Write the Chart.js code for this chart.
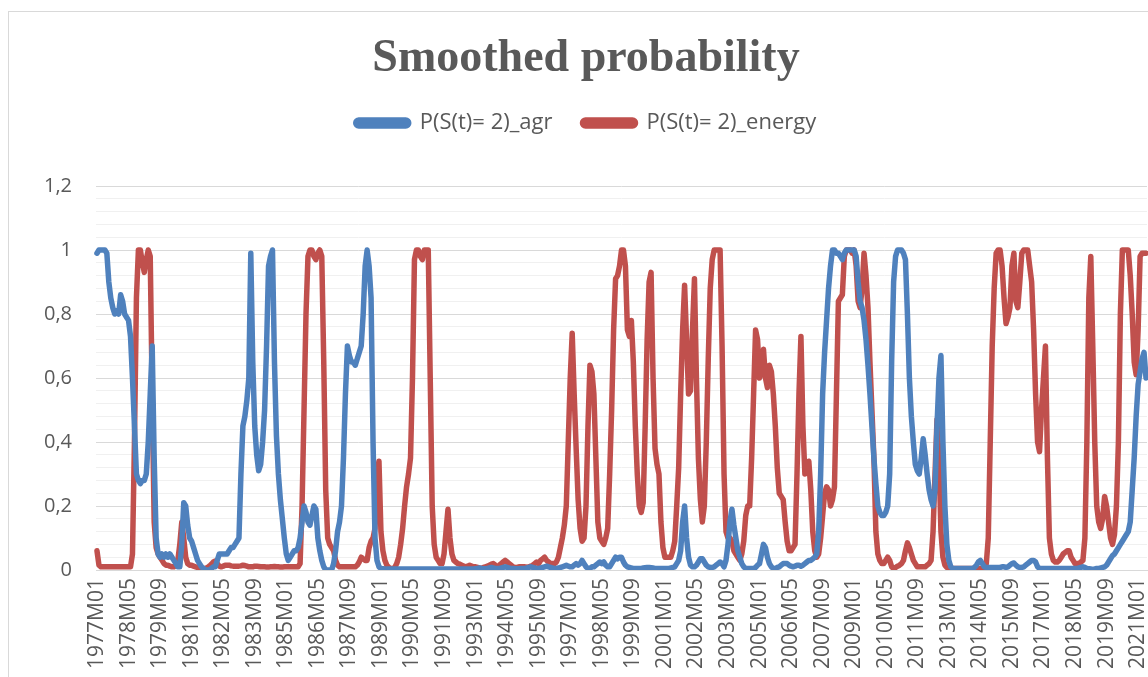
<!DOCTYPE html>
<html>
<head>
<meta charset="utf-8">
<script src="https://cdn.jsdelivr.net/npm/chart.js@4"></script>
<style>
  html, body { margin: 0; padding: 0; background: #fff; overflow: hidden; }
  #frame { position: absolute; left: 8px; top: 11px; width: 1154px; height: 690px; border: 1px solid #d9d9d9; }
</style>
</head>
<body>
<div id="frame"><canvas id="chart"></canvas></div>
<script>
// Monthly smoothed probabilities, 1977M01 .. 2021M05 (one row per year)
const agr = [
  0.99, 1.0, 1.0, 1.0, 1.0, 0.99, 0.9, 0.85, 0.82, 0.8, 0.81, 0.8,
  0.86, 0.84, 0.8, 0.79, 0.78, 0.73, 0.6, 0.45, 0.3, 0.28, 0.27, 0.28,
  0.28, 0.3, 0.4, 0.55, 0.7, 0.35, 0.1, 0.05, 0.04, 0.05, 0.04, 0.05,
  0.04, 0.05, 0.04, 0.03, 0.02, 0.01, 0.01, 0.08, 0.21, 0.2, 0.14, 0.1,
  0.09, 0.07, 0.05, 0.03, 0.02, 0.01, 0.005, 0.0, 0.0, 0.0, 0.005, 0.01,
  0.01, 0.03, 0.05, 0.05, 0.05, 0.05, 0.05, 0.06, 0.07, 0.07, 0.08, 0.09,
  0.1, 0.3, 0.45, 0.48, 0.53, 0.6, 0.99, 0.65, 0.45, 0.36, 0.31, 0.33,
  0.4, 0.5, 0.7, 0.95, 0.98, 1.0, 0.65, 0.42, 0.3, 0.22, 0.16, 0.1,
  0.05, 0.03, 0.04, 0.05, 0.06, 0.06, 0.07, 0.1, 0.15, 0.2, 0.18, 0.15,
  0.14, 0.17, 0.2, 0.19, 0.1, 0.06, 0.03, 0.01, 0.0, 0.0, 0.0, 0.0,
  0.02, 0.06, 0.12, 0.15, 0.2, 0.35, 0.55, 0.7, 0.67, 0.65, 0.65, 0.64,
  0.66, 0.68, 0.7, 0.8, 0.95, 1.0, 0.95, 0.85, 0.4, 0.1, 0.03, 0.01,
  0.005, 0.004, 0.003, 0.003, 0.003, 0.003, 0.003, 0.003, 0.003, 0.003, 0.003, 0.003,
  0.003, 0.003, 0.003, 0.003, 0.003, 0.003, 0.003, 0.003, 0.003, 0.003, 0.003, 0.003,
  0.003, 0.003, 0.003, 0.003, 0.003, 0.003, 0.003, 0.003, 0.003, 0.003, 0.003, 0.003,
  0.003, 0.003, 0.003, 0.003, 0.003, 0.003, 0.003, 0.003, 0.003, 0.003, 0.003, 0.003,
  0.004, 0.005, 0.006, 0.005, 0.004, 0.004, 0.005, 0.006, 0.008, 0.006, 0.005, 0.005,
  0.005, 0.006, 0.008, 0.01, 0.008, 0.006, 0.005, 0.005, 0.004, 0.004, 0.004, 0.005,
  0.005, 0.005, 0.006, 0.008, 0.01, 0.008, 0.006, 0.005, 0.005, 0.006, 0.008, 0.01,
  0.012, 0.01, 0.008, 0.006, 0.005, 0.005, 0.006, 0.008, 0.01, 0.012, 0.015, 0.012,
  0.01, 0.01, 0.015, 0.02, 0.015, 0.02, 0.03, 0.02, 0.01, 0.005, 0.005, 0.01,
  0.01, 0.015, 0.02, 0.025, 0.02, 0.025, 0.015, 0.01, 0.01, 0.02, 0.03, 0.04,
  0.035, 0.04, 0.04, 0.025, 0.015, 0.01, 0.008, 0.006, 0.005, 0.005, 0.005, 0.005,
  0.005, 0.006, 0.007, 0.008, 0.008, 0.007, 0.006, 0.005, 0.005, 0.005, 0.005, 0.005,
  0.005, 0.005, 0.005, 0.006, 0.008, 0.01, 0.02, 0.03, 0.06, 0.15, 0.2, 0.1,
  0.04, 0.015, 0.01, 0.01, 0.015, 0.025, 0.035, 0.035, 0.025, 0.015, 0.01, 0.008,
  0.008, 0.01, 0.015, 0.02, 0.025, 0.02, 0.01, 0.03, 0.08, 0.15, 0.19, 0.14,
  0.1, 0.06, 0.04, 0.02, 0.01, 0.005, 0.005, 0.005, 0.005, 0.005, 0.008, 0.015,
  0.02, 0.05, 0.08, 0.07, 0.04, 0.02, 0.01, 0.005, 0.005, 0.008, 0.01, 0.015,
  0.02, 0.02, 0.02, 0.015, 0.012, 0.01, 0.012, 0.015, 0.015, 0.012, 0.015, 0.02,
  0.025, 0.03, 0.03, 0.035, 0.04, 0.05, 0.12, 0.3, 0.55, 0.68, 0.78, 0.88,
  0.95, 1.0, 1.0, 0.99, 0.99, 0.98, 0.97, 0.99, 1.0, 1.0, 1.0, 1.0,
  1.0, 0.98, 0.9, 0.84, 0.82, 0.78, 0.72, 0.64, 0.55, 0.45, 0.35, 0.27,
  0.2, 0.18, 0.17, 0.17, 0.18, 0.2, 0.3, 0.65, 0.9, 0.98, 1.0, 1.0,
  1.0, 0.99, 0.97, 0.8, 0.6, 0.48, 0.4, 0.33, 0.31, 0.3, 0.35, 0.41,
  0.36, 0.3, 0.25, 0.22, 0.2, 0.25, 0.45, 0.6, 0.67, 0.4, 0.2, 0.08,
  0.03, 0.01, 0.005, 0.005, 0.005, 0.005, 0.005, 0.005, 0.005, 0.005, 0.005, 0.005,
  0.005, 0.008, 0.015, 0.025, 0.03, 0.02, 0.01, 0.008, 0.008, 0.008, 0.008, 0.008,
  0.008, 0.008, 0.008, 0.01, 0.01, 0.008, 0.01, 0.015, 0.02, 0.022, 0.015, 0.01,
  0.008, 0.008, 0.01, 0.015, 0.02, 0.025, 0.03, 0.03, 0.025, 0.01, 0.005, 0.005,
  0.005, 0.005, 0.005, 0.005, 0.005, 0.005, 0.005, 0.005, 0.005, 0.005, 0.005, 0.005,
  0.005, 0.005, 0.005, 0.005, 0.005, 0.005, 0.006, 0.008, 0.01, 0.008, 0.005, 0.004,
  0.003, 0.002, 0.003, 0.005, 0.005, 0.006, 0.008, 0.01, 0.015, 0.025, 0.035, 0.045,
  0.05, 0.06, 0.07, 0.08, 0.09, 0.1, 0.11, 0.12, 0.15, 0.25, 0.35, 0.48,
  0.58, 0.62, 0.66, 0.68, 0.6
];

const energy = [
  0.06, 0.015, 0.01, 0.01, 0.01, 0.01, 0.01, 0.01, 0.01, 0.01, 0.01, 0.01,
  0.01, 0.01, 0.01, 0.01, 0.01, 0.01, 0.05, 0.4, 0.85, 1.0, 1.0, 0.96,
  0.93, 0.97, 1.0, 0.98, 0.55, 0.15, 0.07, 0.05, 0.04, 0.03, 0.02, 0.015,
  0.015, 0.012, 0.01, 0.01, 0.015, 0.03, 0.08, 0.15, 0.1, 0.04, 0.02, 0.015,
  0.015, 0.012, 0.01, 0.008, 0.006, 0.005, 0.005, 0.005, 0.008, 0.012, 0.018, 0.025,
  0.028, 0.02, 0.012, 0.01, 0.012, 0.015, 0.015, 0.015, 0.013, 0.012, 0.012, 0.012,
  0.012, 0.013, 0.015, 0.014, 0.012, 0.01, 0.01, 0.01, 0.012, 0.012, 0.011, 0.01,
  0.01, 0.01, 0.009, 0.009, 0.01, 0.01, 0.011, 0.01, 0.01, 0.009, 0.009, 0.01,
  0.01, 0.01, 0.01, 0.01, 0.01, 0.01, 0.01, 0.02, 0.2, 0.5, 0.8, 0.98,
  1.0, 1.0, 0.98, 0.97, 0.99, 1.0, 0.98, 0.65, 0.25, 0.1, 0.08, 0.07,
  0.06, 0.03, 0.015, 0.01, 0.01, 0.01, 0.01, 0.01, 0.01, 0.01, 0.01, 0.01,
  0.015, 0.025, 0.04, 0.035, 0.03, 0.03, 0.07, 0.09, 0.1, 0.13, 0.3, 0.34,
  0.12, 0.06, 0.03, 0.015, 0.008, 0.005, 0.005, 0.008, 0.02, 0.04, 0.08, 0.13,
  0.2, 0.26, 0.3, 0.35, 0.6, 0.97, 1.0, 1.0, 0.98, 0.97, 1.0, 1.0,
  1.0, 0.6, 0.2, 0.08, 0.04, 0.03, 0.02, 0.02, 0.05, 0.12, 0.19, 0.1,
  0.05, 0.03, 0.025, 0.02, 0.018, 0.015, 0.012, 0.01, 0.012, 0.015, 0.012, 0.01,
  0.01, 0.008, 0.006, 0.005, 0.008, 0.01, 0.012, 0.015, 0.018, 0.02, 0.015, 0.012,
  0.015, 0.02, 0.025, 0.03, 0.025, 0.02, 0.015, 0.01, 0.008, 0.008, 0.01, 0.01,
  0.01, 0.01, 0.008, 0.01, 0.012, 0.015, 0.02, 0.025, 0.02, 0.03, 0.035, 0.04,
  0.03, 0.025, 0.02, 0.02, 0.02, 0.025, 0.04, 0.07, 0.1, 0.14, 0.2, 0.4,
  0.6, 0.74, 0.55, 0.38, 0.22, 0.13, 0.09, 0.1, 0.2, 0.45, 0.64, 0.62,
  0.55, 0.35, 0.15, 0.1, 0.09, 0.08, 0.1, 0.13, 0.3, 0.5, 0.75, 0.91,
  0.92, 0.95, 1.0, 1.0, 0.95, 0.75, 0.73, 0.78, 0.65, 0.45, 0.3, 0.2,
  0.18, 0.21, 0.45, 0.72, 0.9, 0.93, 0.6, 0.38, 0.33, 0.3, 0.15, 0.07,
  0.04, 0.04, 0.04, 0.04, 0.06, 0.09, 0.2, 0.32, 0.55, 0.75, 0.89, 0.72,
  0.55, 0.56, 0.75, 0.91, 0.6, 0.35, 0.22, 0.15, 0.2, 0.4, 0.66, 0.88,
  0.97, 1.0, 1.0, 1.0, 1.0, 0.7, 0.3, 0.12, 0.1, 0.1, 0.09, 0.06,
  0.05, 0.04, 0.03, 0.05, 0.09, 0.17, 0.2, 0.2, 0.35, 0.55, 0.75, 0.72,
  0.6, 0.62, 0.69, 0.6, 0.57, 0.64, 0.62, 0.55, 0.45, 0.32, 0.24, 0.23,
  0.22, 0.15, 0.09, 0.06, 0.06, 0.07, 0.08, 0.3, 0.55, 0.73, 0.45, 0.3,
  0.32, 0.34, 0.25, 0.12, 0.06, 0.04, 0.05, 0.1, 0.17, 0.24, 0.26, 0.25,
  0.2, 0.22, 0.26, 0.55, 0.84, 0.85, 0.86, 0.98, 1.0, 1.0, 1.0, 0.99,
  1.0, 0.95, 0.84, 0.82, 0.88, 0.99, 0.92, 0.82, 0.65, 0.5, 0.35, 0.12,
  0.05, 0.03, 0.02, 0.02, 0.03, 0.04, 0.03, 0.01, 0.005, 0.008, 0.012, 0.015,
  0.02, 0.03, 0.06, 0.085, 0.07, 0.05, 0.03, 0.02, 0.01, 0.01, 0.01, 0.01,
  0.01, 0.015, 0.02, 0.03, 0.12, 0.3, 0.47, 0.35, 0.12, 0.04, 0.015, 0.008,
  0.005, 0.005, 0.005, 0.005, 0.005, 0.005, 0.005, 0.005, 0.005, 0.005, 0.005, 0.005,
  0.005, 0.005, 0.005, 0.005, 0.005, 0.005, 0.005, 0.02, 0.1, 0.4, 0.7, 0.88,
  0.99, 1.0, 1.0, 0.95, 0.85, 0.77, 0.79, 0.82, 0.95, 0.99, 0.84, 0.82,
  0.9, 0.99, 1.0, 1.0, 1.0, 0.95, 0.9, 0.75, 0.55, 0.4, 0.37, 0.5,
  0.6, 0.7, 0.35, 0.1, 0.05, 0.03, 0.025, 0.025, 0.03, 0.04, 0.05, 0.055,
  0.06, 0.06, 0.04, 0.03, 0.02, 0.02, 0.02, 0.025, 0.03, 0.1, 0.4, 0.85,
  0.98, 0.7, 0.4, 0.2, 0.15, 0.13, 0.16, 0.23, 0.2, 0.15, 0.1, 0.08,
  0.11, 0.2, 0.4, 0.8, 1.0, 1.0, 1.0, 1.0, 0.92, 0.8, 0.65, 0.61,
  0.75, 0.98, 0.99, 0.99, 0.99
];

const seriesNames = ["P(S(t)= 2)_agr", "P(S(t)= 2)_energy"];
const yTickLabels = ["0", "0,2", "0,4", "0,6", "0,8", "1", "1,2"];
const startYear = 1977;
const labelStep = 16;

// Category labels 1977M01, 1977M02, ...
const months = [];
for (let i = 0; i < agr.length; i++) {
  const y = startYear + Math.floor(i / 12);
  const m = (i % 12) + 1;
  months.push(y + "M" + String(m).padStart(2, "0"));
}

const isMajor = (v) => Math.abs(v * 5 - Math.round(v * 5)) < 1e-6;

// a bit of extra room under the legend
const legendSpace = {
  id: "legendSpace",
  beforeInit(chart) {
    const fit = chart.legend.fit;
    chart.legend.fit = function () {
      fit.call(this);
      this.height += 42;
    };
  },
};

const ctx = document.getElementById("chart").getContext("2d");

new Chart(ctx, {
  type: "line",
  data: {
    labels: months,
    datasets: [
      {
        label: seriesNames[0],
        data: agr,
        borderColor: "#4f81bd",
        backgroundColor: "#4f81bd",
        borderWidth: 5.5,
        pointRadius: 0,
        borderJoinStyle: "round",
        borderCapStyle: "round",
        tension: 0,
      },
      {
        label: seriesNames[1],
        data: energy,
        borderColor: "#c0504d",
        backgroundColor: "#c0504d",
        borderWidth: 5.5,
        pointRadius: 0,
        borderJoinStyle: "round",
        borderCapStyle: "round",
        tension: 0,
      },
    ],
  },
  options: {
    responsive: true,
    maintainAspectRatio: false,
    animation: false,
    layout: { padding: { left: 16, right: 16, top: 0, bottom: 0 } },
    plugins: {
      title: {
        display: true,
        text: "Smoothed probability",
        color: "#595959",
        font: { family: "'Liberation Serif', serif", size: 46, weight: "bold", lineHeight: 1 },
        padding: { top: 24, bottom: 0 },
      },
      legend: {
        labels: {
          color: "#595959",
          font: { family: "'Open Sans', sans-serif", size: 22 },
          boxWidth: 53,
          boxHeight: 6,
          useBorderRadius: true,
          borderRadius: 3,
          padding: 30,
        },
      },
      tooltip: { enabled: false },
    },
    scales: {
      x: {
        offset: true,
        grid: { display: false, drawTicks: false },
        border: { display: true, color: "#d9d9d9" },
        ticks: {
          autoSkip: false,
          maxRotation: 90,
          minRotation: 90,
          padding: 8,
          color: "#595959",
          font: { family: "'Open Sans', sans-serif", size: 21, lineHeight: 0.6 },
          callback: (v, i) => (i % labelStep === 0 ? months[i] : ""),
        },
        afterFit: (s) => {
          s.height = 132;
          s.paddingLeft = 0;
          s.paddingRight = 0;
        },
      },
      y: {
        min: 0,
        max: 1.2,
        border: { display: false },
        grid: {
          drawTicks: false,
          color: (c) => (c.tick && isMajor(c.tick.value) ? "#d9d9d9" : "#f0f0f0"),
        },
        ticks: {
          stepSize: 0.04,
          autoSkip: false,
          padding: 24,
          color: "#595959",
          font: { family: "'Open Sans', sans-serif", size: 20 },
          callback: (v) => (isMajor(v) ? yTickLabels[Math.round(v * 5)] : ""),
        },
        afterFit: (s) => {
          s.width = 71;
          s.paddingTop = 0;
          s.paddingBottom = 0;
        },
      },
    },
  },
  plugins: [legendSpace],
});
</script>
</body>
</html>
